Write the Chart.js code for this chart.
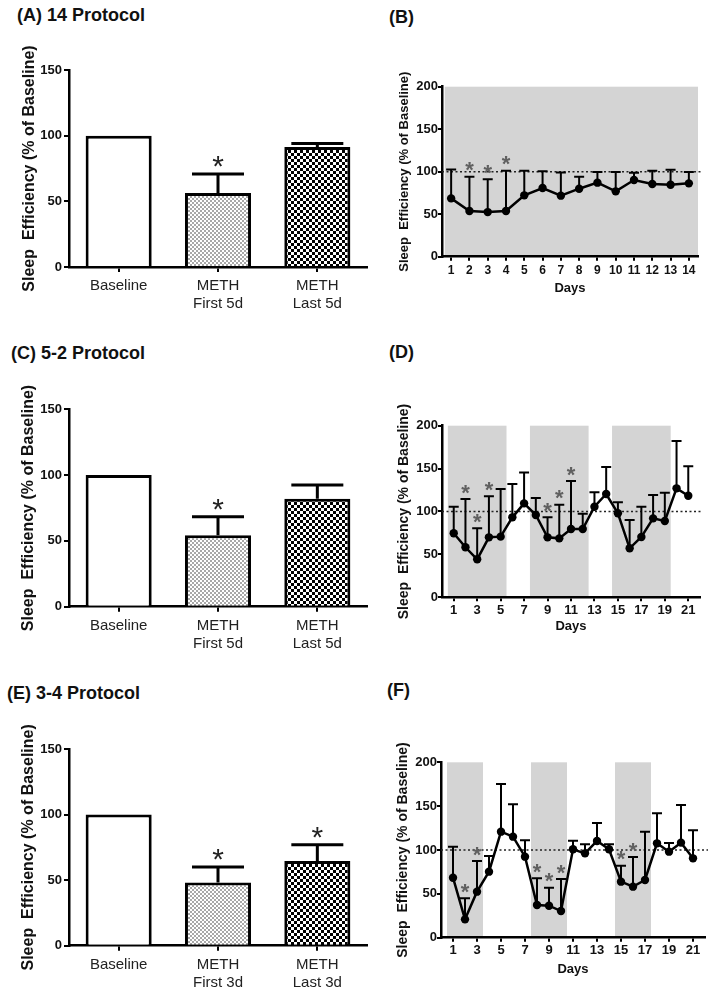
<!DOCTYPE html>
<html><head><meta charset="utf-8">
<script src="https://cdn.jsdelivr.net/npm/chart.js@4/dist/chart.umd.min.js"></script>
<style>
body{margin:0;background:#fff;width:714px;height:997px;position:relative;overflow:hidden;font-family:"Liberation Sans",Arial,sans-serif}
canvas{position:absolute}
.ttl{position:absolute;font-weight:bold;font-size:18px;line-height:18px;white-space:nowrap;color:#111}
</style></head><body>
<div class="ttl" style="left:17px;top:6px">(A) 14 Protocol</div>
<div class="ttl" style="left:389px;top:8px">(B)</div>
<div class="ttl" style="left:11px;top:344px">(C) 5-2 Protocol</div>
<div class="ttl" style="left:389px;top:343px">(D)</div>
<div class="ttl" style="left:7px;top:684px">(E) 3-4 Protocol</div>
<div class="ttl" style="left:387px;top:681px">(F)</div>
<script>
// ---------- DATA ----------
const barLabels14 = ['Baseline', ['METH', 'First 5d'], ['METH', 'Last 5d']];
const barLabels52 = ['Baseline', ['METH', 'First 5d'], ['METH', 'Last 5d']];
const barLabels34 = ['Baseline', ['METH', 'First 3d'], ['METH', 'Last 3d']];

const barMeanA = [100, 56.3, 91.3];
const barSemA  = [0, 14.5, 2.7];
const barSigA  = [false, true, false];

const barMeanC = [100, 54.3, 82.0];
const barSemC  = [0, 14.1, 10.4];
const barSigC  = [false, true, false];

const barMeanE = [100, 48.2, 64.6];
const barSemE  = [0, 11.8, 12.4];
const barSigE  = [false, true, true];

const yTicksBar  = [0, 50, 100, 150];
const yTicksLine = [0, 50, 100, 150, 200];

const daysB     = [1, 2, 3, 4, 5, 6, 7, 8, 9, 10, 11, 12, 13, 14];
const dayTicksB = [1, 2, 3, 4, 5, 6, 7, 8, 9, 10, 11, 12, 13, 14];
const meanB = [68.6, 53.7, 52.5, 53.7, 72.2, 80.8, 71.8, 80.0, 87.1, 76.9, 90.2, 85.5, 84.7, 86.3];
const semB  = [34.1, 40.4, 38.5, 47.5, 29.0, 19.6, 27.4, 14.1, 12.5, 22.7, 8.6, 15.7, 17.7, 13.3];
const sigB  = [false, true, true, true, false, false, false, false, false, false, false, false, false, false];

const daysDF     = [1, 2, 3, 4, 5, 6, 7, 8, 9, 10, 11, 12, 13, 14, 15, 16, 17, 18, 19, 20, 21];
const dayTicksDF = [1, 3, 5, 7, 9, 11, 13, 15, 17, 19, 21];

const meanD = [74.6, 58.3, 44.3, 69.9, 70.7, 93.2, 109.5, 95.9, 69.9, 68.7, 79.6, 79.6, 105.6, 120.4, 97.9, 57.1, 70.3, 92.0, 88.9, 127.0, 118.4];
const semD  = [31.0, 56.3, 36.1, 47.8, 55.5, 38.8, 36.1, 19.8, 23.3, 39.3, 55.9, 17.9, 16.7, 31.4, 12.8, 33.0, 35.3, 27.2, 33.0, 55.1, 34.2];
const sigD  = [false, true, true, true, false, false, false, false, true, true, true, false, false, false, false, false, false, false, false, false, false];

const meanF = [68.4, 20.9, 52.5, 75.3, 120.9, 115.2, 92.4, 37.3, 36.5, 30.4, 100.8, 96.2, 110.3, 100.8, 63.9, 58.2, 65.8, 107.6, 98.1, 108.4, 90.5];
const semF  = [35.4, 24.0, 35.0, 17.9, 54.4, 36.9, 18.6, 30.4, 20.5, 36.5, 9.8, 10.3, 20.5, 5.7, 18.2, 33.8, 55.1, 34.2, 9.9, 42.9, 31.9];
const sigF  = [false, true, true, false, false, false, false, true, true, true, false, false, false, false, true, true, false, false, false, false, false];

const methDaysB = [[0.65, 14.5]];
const methDaysD = [[0.5, 5.5], [7.5, 12.5], [14.5, 19.5]];
const methDaysF = [[0.5, 3.5], [7.5, 10.5], [14.5, 17.5]];
const baselineLevel = 100;

const yTitle = 'Sleep  Efficiency (% of Baseline)';
const xTitle = 'Days';

// ---------- RENDER ----------
const FONT = '"Liberation Sans", Arial, Helvetica, sans-serif';
Chart.defaults.font.family = FONT;
Chart.defaults.color = '#111';

function makePattern(kind) {
  const c = document.createElement('canvas');
  const g = c.getContext('2d');
  if (kind === 'stipple') {
    c.width = 4; c.height = 4;
    g.fillStyle = '#fff'; g.fillRect(0, 0, 4, 4);
    g.fillStyle = '#a8a8a8'; g.fillRect(0, 0, 2, 2); g.fillRect(2, 2, 2, 2);
  } else {
    c.width = 6; c.height = 6;
    g.fillStyle = '#fff'; g.fillRect(0, 0, 6, 6);
    g.fillStyle = '#000'; g.fillRect(0, 0, 3, 3); g.fillRect(3, 3, 3, 3);
  }
  return g.createPattern(c, 'repeat');
}
const stipple = makePattern('stipple');
const checker = makePattern('checker');

function makeCanvas(box) {
  const cv = document.createElement('canvas');
  cv.width = box.w; cv.height = box.h;
  cv.style.left = box.x + 'px'; cv.style.top = box.y + 'px';
  document.body.appendChild(cv);
  return cv;
}

function decor(cfg) {
  function errTopPix(chart, i) {
    return chart.scales.y.getPixelForValue(cfg.mean[i] + cfg.sem[i]);
  }
  function drawErr(chart, lw, half) {
    const {ctx, scales: {y}} = chart;
    const meta = chart.getDatasetMeta(0);
    ctx.save();
    ctx.strokeStyle = '#000'; ctx.lineWidth = lw; ctx.lineCap = 'butt';
    meta.data.forEach((el, i) => {
      if (!(cfg.sem[i] > 0)) return;
      const y0 = y.getPixelForValue(cfg.mean[i]);
      const y1 = errTopPix(chart, i);
      ctx.beginPath();
      ctx.moveTo(el.x, y0); ctx.lineTo(el.x, y1);
      ctx.moveTo(el.x - half, y1); ctx.lineTo(el.x + half, y1);
      ctx.stroke();
    });
    ctx.restore();
  }
  function drawStars(chart) {
    const {ctx} = chart;
    const meta = chart.getDatasetMeta(0);
    ctx.save();
    ctx.fillStyle = cfg.starColor;
    ctx.font = cfg.starFont;
    ctx.textAlign = 'center';
    ctx.textBaseline = 'alphabetic';
    meta.data.forEach((el, i) => {
      if (!cfg.sig[i]) return;
      const yc = errTopPix(chart, i) - cfg.starGap;
      ctx.fillText('*', el.x, yc + 0.58 * cfg.starSize);
    });
    ctx.restore();
  }
  return {
    id: 'decor',
    beforeDraw(chart) {
      if (!cfg.bands) return;
      const {ctx, scales: {x, y}} = chart;
      ctx.save(); ctx.fillStyle = '#d4d4d4';
      const yt = y.getPixelForValue(y.max), yb = y.getPixelForValue(0);
      cfg.bands.forEach(([a, b]) => {
        const x0 = x.getPixelForValue(a), x1 = x.getPixelForValue(b);
        ctx.fillRect(x0, yt, x1 - x0, yb - yt);
      });
      ctx.restore();
    },
    beforeDatasetsDraw(chart) {
      const {ctx, scales: {y}, chartArea} = chart;
      if (cfg.ref != null) {
        const yy = y.getPixelForValue(cfg.ref);
        ctx.save(); ctx.strokeStyle = '#222'; ctx.lineWidth = 1.6; ctx.setLineDash([2, 2.5]);
        ctx.beginPath(); ctx.moveTo(chartArea.left, yy); ctx.lineTo(chartArea.right + 3, yy); ctx.stroke();
        ctx.restore();
      }
      if (cfg.kind === 'line') drawErr(chart, 2, 5);
    },
    afterDatasetsDraw(chart) {
      if (cfg.kind === 'bar') drawErr(chart, 3, 26);
      drawStars(chart);
    }
  };
}

function axisCommon() {
  return {
    grid: {drawOnChartArea: false, drawTicks: true, color: '#000', tickColor: '#000', lineWidth: 2},
    border: {display: true, color: '#000', width: 2.5}
  };
}

function makeBar(box, area, labels, mean, sem, sig) {
  const cv = makeCanvas(box);
  const xc = axisCommon(), yc = axisCommon();
  return new Chart(cv, {
    type: 'bar',
    data: {labels, datasets: [{data: mean, backgroundColor: ['#ffffff', stipple, checker],
      borderColor: '#000', borderWidth: 3, barPercentage: 0.665, categoryPercentage: 1}]},
    options: {
      responsive: false, animation: false, devicePixelRatio: 1, events: [],
      layout: {padding: {left: 0, top: area.t - box.y, right: box.x + box.w - area.r, bottom: 0}},
      plugins: {legend: {display: false}, tooltip: {enabled: false}},
      scales: {
        x: {grid: Object.assign(xc.grid, {offset: false, tickLength: 5}), border: xc.border,
            ticks: {font: {size: 15}, padding: 5, color: '#222', maxRotation: 0, autoSkip: false},
            afterFit(s) { s.height = box.y + box.h - area.b; }},
        y: {min: 0, max: 150, grid: Object.assign(yc.grid, {tickLength: 5}), border: yc.border,
            afterBuildTicks(s) { s.ticks = yTicksBar.map(v => ({value: v})); },
            ticks: {font: {size: 13, weight: 'bold'}, padding: 2, color: '#111'},
            title: {display: true, text: yTitle, font: {size: 16, weight: 'bold'}, color: '#111',
                    padding: {top: area.ytx - box.x - 9.6, bottom: 0}},
            afterFit(s) { s.width = area.l - box.x; }}
      }
    },
    plugins: [decor({kind: 'bar', mean, sem, sig, starColor: '#222', starFont: '30px ' + FONT, starSize: 30, starGap: 15})]
  });
}

function makeLine(box, area, xr, days, ticksX, mean, sem, sig, bands, fs) {
  const cv = makeCanvas(box);
  const xc = axisCommon(), yc = axisCommon();
  const pts = days.map((d, i) => ({x: d, y: mean[i]}));
  return new Chart(cv, {
    type: 'line',
    data: {datasets: [{data: pts, borderColor: '#000', borderWidth: 2.5, tension: 0,
      pointRadius: 4.2, pointBackgroundColor: '#000', pointBorderColor: '#000', pointBorderWidth: 0}]},
    options: {
      responsive: false, animation: false, devicePixelRatio: 1, events: [],
      layout: {padding: {left: 0, top: area.t - box.y, right: box.x + box.w - area.r, bottom: 0}},
      plugins: {legend: {display: false}, tooltip: {enabled: false}},
      scales: {
        x: {type: 'linear', min: xr[0], max: xr[1], grid: Object.assign(xc.grid, {tickLength: 4}), border: xc.border,
            afterBuildTicks(s) { s.ticks = ticksX.map(v => ({value: v})); },
            ticks: {font: {size: fs.xt, weight: 'bold'}, padding: fs.xp, color: '#111', maxRotation: 0, autoSkip: false},
            title: {display: true, text: xTitle, font: {size: 13, weight: 'bold'}, color: '#111',
                    padding: {top: 0, bottom: box.y + box.h - area.dt - 7.8}},
            afterFit(s) { s.height = box.y + box.h - area.b; }},
        y: {min: 0, max: 200, grid: Object.assign(yc.grid, {tickLength: 4}), border: yc.border,
            afterBuildTicks(s) { s.ticks = yTicksLine.map(v => ({value: v})); },
            ticks: {font: {size: 13, weight: 'bold'}, padding: 0, color: '#111'},
            title: {display: true, text: yTitle, font: {size: fs.yt, weight: 'bold'}, color: '#111',
                    padding: {top: area.ytx - box.x - fs.yt * 0.6, bottom: 0}},
            afterFit(s) { s.width = area.l - box.x; }}
      }
    },
    plugins: [decor({kind: 'line', mean, sem, sig, bands, ref: baselineLevel,
      starColor: '#606060', starFont: 'bold 22px ' + FONT, starSize: 22, starGap: 12})]
  });
}

makeBar({x: 0, y: 30, w: 380, h: 290}, {l: 69, t: 70, r: 367, b: 267, ytx: 30}, barLabels14, barMeanA, barSemA, barSigA);
makeBar({x: 0, y: 370, w: 380, h: 290}, {l: 69, t: 409.3, r: 367, b: 606.7, ytx: 29}, barLabels52, barMeanC, barSemC, barSigC);
makeBar({x: 0, y: 705, w: 380, h: 292}, {l: 69, t: 749, r: 367, b: 945.7, ytx: 29}, barLabels34, barMeanE, barSemE, barSigE);

makeLine({x: 375, y: 40, w: 339, h: 270}, {l: 442, t: 86.7, r: 698, b: 256.7, ytx: 404, dt: 288},
  [0.5, 14.5], daysB, dayTicksB, meanB, semB, sigB, methDaysB, {xt: 12, xp: 3, yt: 13});
makeLine({x: 375, y: 380, w: 339, h: 270}, {l: 442, t: 425.7, r: 700, b: 597.3, ytx: 404, dt: 626.7},
  [0, 22], daysDF, dayTicksDF, meanD, semD, sigD, methDaysD, {xt: 13, xp: 1, yt: 14});
makeLine({x: 375, y: 715, w: 339, h: 282}, {l: 441, t: 762.3, r: 705, b: 937.7, ytx: 403, dt: 969.3},
  [0, 22], daysDF, dayTicksDF, meanF, semF, sigF, methDaysF, {xt: 13, xp: 1, yt: 14});
</script>
</body></html>
